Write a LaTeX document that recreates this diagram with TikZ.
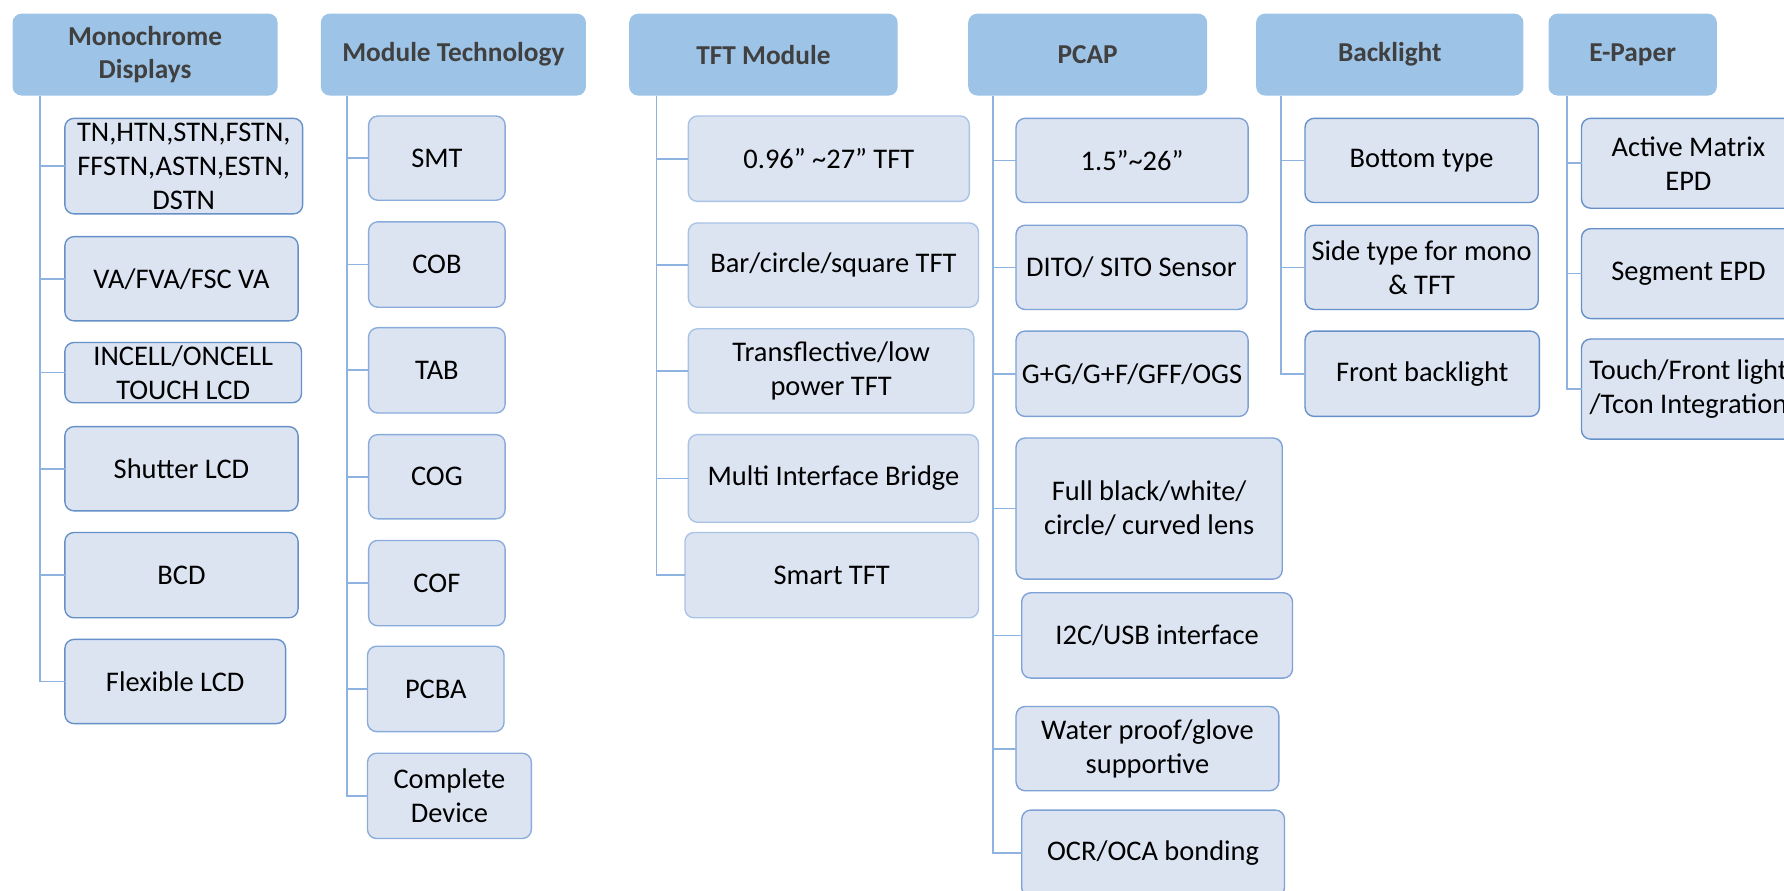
\documentclass[tikz,border=0pt]{standalone}
\usepackage{fontspec}
\setmainfont{Carlito}
\definecolor{headfill}{HTML}{9DC3E6}
\definecolor{headtext}{HTML}{404040}
\definecolor{childfill}{HTML}{DCE4F2}
\definecolor{childdraw}{HTML}{7EA1D6}
\definecolor{darkdraw}{HTML}{6690C8}
\definecolor{lightdraw}{HTML}{A9C3E7}
\definecolor{middraw}{HTML}{8AACDC}
\definecolor{connc}{HTML}{8FB3E0}
\tikzset{
  headbox/.style={draw=none, fill=headfill, rounded corners=8pt, inner sep=0pt, outer sep=0pt,
    align=center, text=headtext, font=\fontsize{24}{29}\selectfont\bfseries, minimum height=72pt},
  childbox/.style={draw=childdraw, line width=1.2pt, fill=childfill, rounded corners=8pt, inner sep=0pt, outer sep=0pt,
    align=center, text=black, font=\fontsize{25}{30}\selectfont},
  conn/.style={draw=connc, line width=1.5pt}
}
\newcommand{\cb}[7][childdraw]{\node[childbox, draw=#1, minimum width=#5pt, minimum height=#6pt] (#2) at (#3,#4) {#7};}
\begin{document}
\begin{tikzpicture}[x=1pt,y=-1pt]
\useasboundingbox (0,0) rectangle (1568,783);
\fill[white] (0,0) rectangle (1568,783);
\clip (0,0) rectangle (1568,783);
% headers
\node[headbox, minimum width=233pt] (h1) at (127.5,48) {Monochrome\\Displays};
\node[headbox, minimum width=233pt] (h2) at (398.5,48) {Module Technology};
\node[headbox, minimum width=236pt] (h3) at (671,48) {TFT Module};
\node[headbox, minimum width=210pt] (h4) at (956,48) {PCAP};
\node[headbox, minimum width=235pt] (h5) at (1221.5,48) {Backlight};
\node[headbox, minimum width=148pt] (h6) at (1435,48) {E-Paper};
% trunk origins
\coordinate (t1) at (35,84);
\coordinate (t2) at (305,84);
\coordinate (t3) at (577,84);
\coordinate (t4) at (873,84);
\coordinate (t5) at (1126,84);
\coordinate (t6) at (1377,84);
% column 1
\cb[darkdraw]{c11}{161.5}{146}{209}{84}{TN,HTN,STN,FSTN,\\FFSTN,ASTN,ESTN,\\DSTN}
\cb[darkdraw]{c12}{159.5}{245}{205}{74}{VA/FVA/FSC VA}
\cb[darkdraw]{c13}{161}{327.5}{208}{53}{INCELL/ONCELL\\TOUCH LCD}
\cb[darkdraw]{c14}{159.5}{412}{205}{74}{Shutter LCD}
\cb[darkdraw]{c15}{159.5}{505.5}{205}{75}{BCD}
\cb[darkdraw]{c16}{154}{599}{194}{74}{Flexible LCD}
% column 2
\cb[middraw]{c21}{384}{139}{120}{74}{SMT}
\cb[middraw]{c22}{384}{232.5}{120}{75}{COB}
\cb[middraw]{c23}{384}{325.5}{120}{75}{TAB}
\cb[middraw]{c24}{384}{419}{120}{74}{COG}
\cb[middraw]{c25}{384}{512.5}{120}{75}{COF}
\cb[middraw]{c26}{383}{605.5}{120}{75}{PCBA}
\cb[middraw]{c27}{395}{699.5}{144}{75}{Complete\\Device}
% column 3
\cb[lightdraw]{c31}{728.5}{139.5}{247}{75}{0.96” \textasciitilde27” TFT}
\cb[lightdraw]{c32}{732.5}{233}{255}{74}{Bar/circle/square TFT}
\cb[lightdraw]{c33}{730.5}{326}{251}{74}{Transflective/low\\power TFT}
\cb[lightdraw]{c34}{732.5}{420.5}{255}{77}{Multi Interface Bridge}
\cb[lightdraw]{c35}{731}{505.5}{258}{75}{Smart TFT}
% column 4
\cb{c41}{995}{141}{204}{74}{1.5”\textasciitilde26”}
\cb{c42}{994.5}{235}{203}{74}{DITO/ SITO Sensor}
\cb{c43}{995}{328.5}{204}{75}{G+G/G+F/GFF/OGS}
\cb{c44}{1010}{447}{234}{124}{Full black/white/\\circle/ curved lens}
\cb{c45}{1017}{558.5}{238}{75}{I2C/USB interface}
\cb{c46}{1008.5}{658}{231}{74}{Water proof/glove\\supportive}
\cb{c47}{1013.5}{750}{231}{76}{OCR/OCA bonding}
% column 5
\cb[darkdraw]{c51}{1249.5}{141}{205}{74}{Bottom type}
\cb[darkdraw]{c52}{1249.5}{235}{205}{74}{Side type for mono\\\& TFT}
\cb[darkdraw]{c53}{1250}{328.5}{206}{75}{Front backlight}
% column 6
\cb[darkdraw]{c61}{1484}{143.5}{188}{79}{Active Matrix\\EPD}
\cb[darkdraw]{c62}{1484}{240.5}{188}{79}{Segment EPD}
\cb[darkdraw]{c63}{1484}{342}{188}{88}{Touch/Front light\\/Tcon Integration}
% connectors
\draw[conn] (t1) |- (c16.west);
\foreach \n in {c11,c12,c13,c14,c15} \draw[conn] (t1 |- \n.west) -- (\n.west);
\draw[conn] (t2) |- (c27.west);
\foreach \n in {c21,c22,c23,c24,c25,c26} \draw[conn] (t2 |- \n.west) -- (\n.west);
\draw[conn] (t3) |- (c35.west);
\foreach \n in {c31,c32,c33,c34} \draw[conn] (t3 |- \n.west) -- (\n.west);
\draw[conn] (t4) |- (c47.west);
\foreach \n in {c41,c42,c43,c44,c45,c46} \draw[conn] (t4 |- \n.west) -- (\n.west);
\draw[conn] (t5) |- (c53.west);
\foreach \n in {c51,c52} \draw[conn] (t5 |- \n.west) -- (\n.west);
\draw[conn] (t6) |- (c63.west);
\foreach \n in {c61,c62} \draw[conn] (t6 |- \n.west) -- (\n.west);
\end{tikzpicture}
\end{document}
